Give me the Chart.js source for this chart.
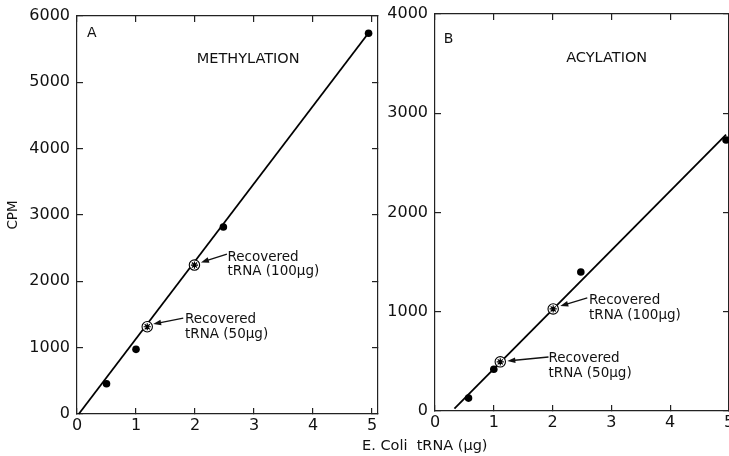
<!DOCTYPE html>
<html>
<head>
<meta charset="utf-8">
<script src="https://cdn.jsdelivr.net/npm/chart.js@4.4.1/dist/chart.umd.min.js"></script>
<style>
  html, body { margin: 0; padding: 0; background: #fff; overflow: hidden; }
  #wrap { position: relative; width: 729px; height: 456px; overflow: hidden; }
  #chartA { position: absolute; left: 0; top: 0; }
  #chartB { position: absolute; left: 380px; top: 0; }
  #xTitle { position: absolute; left: 362px; top: 438px; font-family: "DejaVu Sans"; font-size: 14.5px; line-height: 1; white-space: pre; color: #111; }
</style>
</head>
<body>
<div id="wrap">
  <canvas id="chartA" width="385" height="456" style="width:385px;height:456px"></canvas>
  <canvas id="chartB" width="370" height="456" style="width:370px;height:456px"></canvas>
  <div id="xTitle">E. Coli  tRNA (µg)</div>
</div>
<script>
// tick values
var xTicks = [0, 1, 2, 3, 4, 5];
var yTicksA = [0, 1000, 2000, 3000, 4000, 5000, 6000];
var yTicksB = [0, 1000, 2000, 3000, 4000];

// A - methylation
var methylX = [0.5, 1.0, 2.48, 4.94];
var methylY = [455, 975, 2820, 5740];
var methylRecX = [1.19, 1.99];
var methylRecY = [1315, 2245];
var methylFitX = [0.03, 4.92];
var methylFitY = [0, 5720];

// B - acylation
var acylX = [0.57, 1.0, 2.48, 4.95];
var acylY = [130, 420, 1400, 2730];
var acylRecX = [1.11, 2.01];
var acylRecY = [495, 1028];
var acylFitX = [0.33, 4.95];
var acylFitY = [25, 2785];

function pts(xs, ys) {
  return xs.map(function (x, i) { return { x: x, y: ys[i] }; });
}

function setTicks(list) {
  return function (scale) {
    scale.ticks = list.map(function (v) { return { value: v }; });
  };
}

// text + arrows inside the plot, placed in data units
var notesPlugin = {
  id: 'notes',
  afterDatasetsDraw: function (chart, args, opts) {
    var ctx = chart.ctx, xs = chart.scales.x, ys = chart.scales.y;
    ctx.save();
    ctx.fillStyle = '#111';
    ctx.strokeStyle = '#111';
    (opts.labels || []).forEach(function (l) {
      ctx.font = l.size + 'px "DejaVu Sans"';
      ctx.textAlign = l.align || 'left';
      ctx.textBaseline = 'alphabetic';
      var px = xs.getPixelForValue(l.x), py = ys.getPixelForValue(l.y);
      l.lines.forEach(function (s, i) { ctx.fillText(s, px, py + i * (l.gap || 0)); });
    });
    (opts.arrows || []).forEach(function (a) {
      var x1 = xs.getPixelForValue(a.x1), y1 = ys.getPixelForValue(a.y1);
      var x2 = xs.getPixelForValue(a.x2), y2 = ys.getPixelForValue(a.y2);
      var ang = Math.atan2(y2 - y1, x2 - x1);
      ctx.lineWidth = 1.3;
      ctx.beginPath();
      ctx.moveTo(x1, y1);
      ctx.lineTo(x2 - 5 * Math.cos(ang), y2 - 5 * Math.sin(ang));
      ctx.stroke();
      ctx.beginPath();
      ctx.moveTo(x2, y2);
      ctx.lineTo(x2 - 8 * Math.cos(ang) + 2.8 * Math.sin(ang), y2 - 8 * Math.sin(ang) - 2.8 * Math.cos(ang));
      ctx.lineTo(x2 - 8 * Math.cos(ang) - 2.8 * Math.sin(ang), y2 - 8 * Math.sin(ang) + 2.8 * Math.cos(ang));
      ctx.closePath();
      ctx.fill();
    });
    ctx.restore();
  }
};

var tickFont = { family: '"DejaVu Sans"', size: 16 };

function axis(pos, min, max, list, size, showLabels, extra) {
  var a = {
    type: 'linear',
    position: pos,
    min: min,
    max: max,
    afterBuildTicks: setTicks(list),
    afterFit: function (s) {
      if (pos === 'left' || pos === 'right') s.width = size; else s.height = size;
      // keep the plot box where the layout padding puts it
      s.paddingTop = 0; s.paddingBottom = 0; s.paddingLeft = 0; s.paddingRight = 0;
    },
    border: { display: true, color: '#222', width: 1.2 },
    grid: { drawOnChartArea: false, drawTicks: true, tickLength: -6, color: '#222', lineWidth: 1.2 },
    ticks: {
      display: showLabels,
      color: '#111',
      font: tickFont,
      padding: (pos === 'left') ? 13 : 8,
      maxRotation: 0,
      autoSkip: false,
      callback: function (v) { return String(v); }
    }
  };
  if (extra) Object.assign(a, extra);
  return a;
}

function makePanel(id, p) {
  var ctx = document.getElementById(id).getContext('2d');
  return new Chart(ctx, {
    type: 'scatter',
    data: {
      datasets: [
        { data: pts(p.fitX, p.fitY), showLine: true, borderColor: '#000', borderWidth: 1.8, pointRadius: 0, order: 3 },
        { data: pts(p.x, p.y), pointStyle: 'circle', pointRadius: 3.8, backgroundColor: '#000', borderColor: '#000', borderWidth: 0, order: 2 },
        { data: pts(p.recX, p.recY), pointStyle: 'circle', pointRadius: 5.2, backgroundColor: '#fff', borderColor: '#000', borderWidth: 1.1, order: 1 },
        { data: pts(p.recX, p.recY), pointStyle: 'star', pointRadius: 3.6, borderColor: '#000', borderWidth: 1.2, order: 0 }
      ]
    },
    options: {
      responsive: false,
      animation: false,
      events: [],
      clip: false,
      layout: { padding: p.padding },
      plugins: {
        legend: { display: false },
        tooltip: { enabled: false },
        notes: p.notes
      },
      scales: {
        x: axis('bottom', 0, p.xMax, xTicks, p.xHeight, true),
        x2: axis('top', 0, p.xMax, xTicks, 0, false),
        y: axis('left', 0, p.yMax, p.yTicks, p.yWidth, true, p.yTitle ? {
          title: { display: true, text: p.yTitle, color: '#111', font: { family: '"DejaVu Sans"', size: 13.5 }, padding: { top: 5, bottom: 0 } }
        } : null),
        y2: axis('right', 0, p.yMax, p.yTicks, 0, false)
      }
    },
    plugins: [notesPlugin]
  });
}

makePanel('chartA', {
  x: methylX, y: methylY, recX: methylRecX, recY: methylRecY, fitX: methylFitX, fitY: methylFitY,
  xMax: 5.1, yMax: 6000, yTicks: yTicksA, yWidth: 77, xHeight: 42, yTitle: 'CPM',
  padding: { top: 16, right: 7, bottom: 0, left: 0 },
  notes: {
    labels: [
      { lines: ['A'], x: 0.17, y: 5690, size: 14 },
      { lines: ['METHYLATION'], x: 2.9, y: 5290, size: 14.5, align: 'center' },
      { lines: ['Recovered', 'tRNA (100µg)'], x: 2.55, y: 2310, size: 13.5, gap: 14 },
      { lines: ['Recovered', 'tRNA (50µg)'], x: 1.83, y: 1375, size: 13.5, gap: 15 }
    ],
    arrows: [
      { x1: 2.54, y1: 2410, x2: 2.1, y2: 2285 },
      { x1: 1.8, y1: 1445, x2: 1.29, y2: 1355 }
    ]
  }
});

makePanel('chartB', {
  x: acylX, y: acylY, recX: acylRecX, recY: acylRecY, fitX: acylFitX, fitY: acylFitY,
  xMax: 5.0, yMax: 4000, yTicks: yTicksB, yWidth: 55, xHeight: 45, yTitle: null,
  padding: { top: 14, right: 21, bottom: 0, left: 0 },
  notes: {
    labels: [
      { lines: ['B'], x: 0.15, y: 3710, size: 14 },
      { lines: ['ACYLATION'], x: 2.92, y: 3515, size: 14.5, align: 'center' },
      { lines: ['Recovered', 'tRNA (100µg)'], x: 2.62, y: 1078, size: 13.5, gap: 15 },
      { lines: ['Recovered', 'tRNA (50µg)'], x: 1.93, y: 494, size: 13.5, gap: 15 }
    ],
    arrows: [
      { x1: 2.59, y1: 1139, x2: 2.13, y2: 1058 },
      { x1: 1.93, y1: 544, x2: 1.23, y2: 504 }
    ]
  }
});
</script>
</body>
</html>
